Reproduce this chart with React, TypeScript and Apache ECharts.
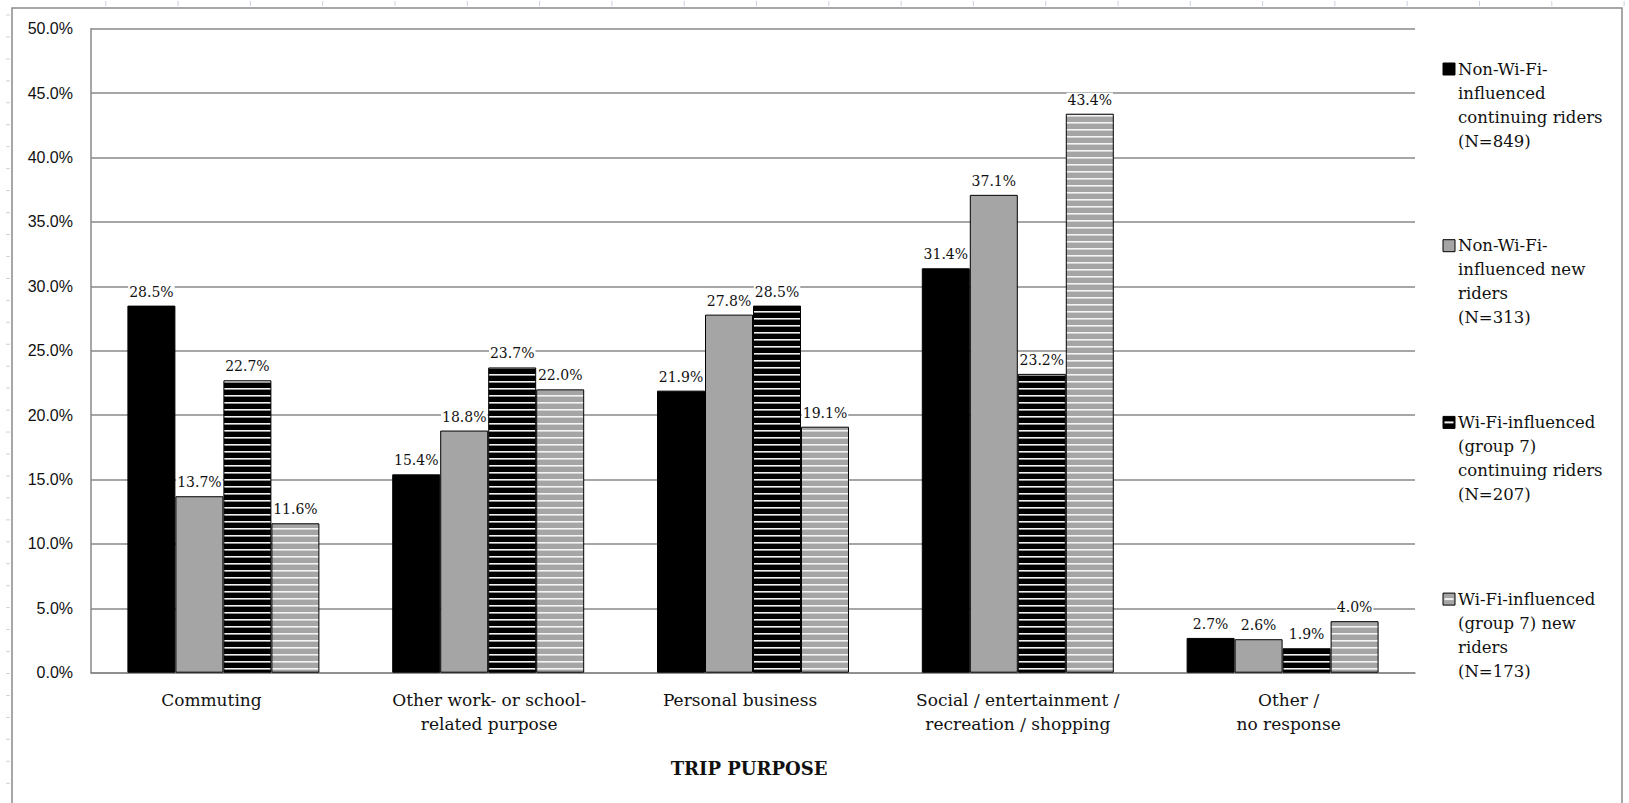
import React, { useEffect, useRef } from "react";
import * as echarts from "echarts";

// Trip purpose categories (x axis)
const categories = [
  "Commuting",
  "Other work- or school-\nrelated purpose",
  "Personal business",
  "Social / entertainment /\nrecreation / shopping",
  "Other /\nno response",
];
// Horizontal nudge of each category label, px (negative = left)
const categoryLabelShift = [-12, 1, -13, 0, 6];

// Rider groups, legend text split onto lines
const groupNames = [
  "Non-Wi-Fi-influenced continuing riders (N=849)",
  "Non-Wi-Fi-influenced new riders (N=313)",
  "Wi-Fi-influenced (group 7) continuing riders (N=207)",
  "Wi-Fi-influenced (group 7) new riders (N=173)",
];
const legendLines = [
  ["Non-Wi-Fi-", "influenced", "continuing riders", "(N=849)"],
  ["Non-Wi-Fi-", "influenced new", "riders", "(N=313)"],
  ["Wi-Fi-influenced", "(group 7)", "continuing riders", "(N=207)"],
  ["Wi-Fi-influenced", "(group 7) new", "riders", "(N=173)"],
];

// Share of trips by purpose, percent
const nonWifiContinuing = [28.5, 15.4, 21.9, 31.4, 2.7];
const nonWifiNew = [13.7, 18.8, 27.8, 37.1, 2.6];
const wifiContinuing = [22.7, 23.7, 28.5, 23.2, 1.9];
const wifiNew = [11.6, 22.0, 19.1, 43.4, 4.0];

const yMin = 0;
const yMax = 50;
const yStep = 5;

const BLACK = "#000000";
const GRAY = "#a5a5a5";
const SERIF = "DejaVu Serif";
const SANS = "Liberation Sans";

function stripeCanvas(bg: string, line: string) {
  const c = document.createElement("canvas");
  c.width = 8;
  c.height = 7;
  const ctx = c.getContext("2d")!;
  ctx.fillStyle = bg;
  ctx.fillRect(0, 0, 8, 7);
  ctx.fillStyle = line;
  ctx.fillRect(0, 3, 8, 1.6);
  return c;
}

export default function App() {
  const ref = useRef<HTMLDivElement>(null);

  useEffect(() => {
    if (!ref.current) return;
    const chart = echarts.init(ref.current, undefined, { renderer: "svg" });

    const blackStripes = {
      image: stripeCanvas(BLACK, "#f2f2f2"),
      repeat: "repeat",
      imageWidth: 8,
      imageHeight: 7,
    };
    const grayStripes = {
      image: stripeCanvas(GRAY, "#f4f4f4"),
      repeat: "repeat",
      imageWidth: 8,
      imageHeight: 7,
    };

    const fills: any[] = [BLACK, GRAY, blackStripes, grayStripes];
    const values = [nonWifiContinuing, nonWifiNew, wifiContinuing, wifiNew];

    const series = values.map((data, i) => ({
      type: "bar",
      name: groupNames[i],
      data,
      barGap: "0%",
      barCategoryGap: "27.5%",
      itemStyle: { color: fills[i], borderColor: "#000", borderWidth: 1 },
      label: {
        show: true,
        position: "top",
        distance: 7,
        formatter: (p: any) => Number(p.value).toFixed(1) + "%",
        fontFamily: SERIF,
        fontSize: 14,
        color: "#111",
        backgroundColor: "#ffffff",
        padding: [0, 1, 0, 1],
      },
    }));

    const categoryData = categories.map((name, i) => {
      const s = categoryLabelShift[i];
      return {
        value: name,
        textStyle: { padding: s < 0 ? [0, -2 * s, 0, 0] : [0, 0, 0, 2 * s] },
      };
    });

    // Legend drawn as graphic: marker on the first line, text wrapped below
    const legendGraphics: any[] = [];
    const markerX = 1443;
    const textX = 1458;
    const firstY = 69;
    const itemStep = 176.7;
    legendLines.forEach((lines, i) => {
      const cy = firstY + i * itemStep;
      const isStriped = i >= 2;
      const base = i % 2 === 0 ? BLACK : GRAY;
      legendGraphics.push({
        type: "rect",
        shape: { x: markerX, y: cy - 6, width: 12, height: 12 },
        style: { fill: base, stroke: "#000", lineWidth: 1 },
        silent: true,
      });
      if (isStriped) {
        legendGraphics.push({
          type: "rect",
          shape: { x: markerX + 1.5, y: cy - 1, width: 9, height: 2 },
          style: { fill: "#f2f2f2" },
          silent: true,
        });
      }
      legendGraphics.push({
        type: "text",
        x: textX,
        y: cy - 12,
        style: {
          text: lines.join("\n"),
          fontFamily: SERIF,
          fontSize: 16.5,
          lineHeight: 24,
          fill: "#111",
          verticalAlign: "top",
          align: "left",
        },
        silent: true,
      });
    });

    // Faint page ruler marks along the top and left edges
    const rulerGraphics: any[] = [];
    for (let x = 105.8; x < 1629; x += 72.3) {
      rulerGraphics.push({
        type: "line",
        shape: { x1: x, y1: 1, x2: x, y2: 6 },
        style: { stroke: "#c9d2e0", lineWidth: 1 },
        silent: true,
      });
    }
    for (let y = 15; y < 803; y += 21.95) {
      rulerGraphics.push({
        type: "line",
        shape: { x1: 6, y1: y, x2: 10, y2: y },
        style: { stroke: "#c9d2e0", lineWidth: 1 },
        silent: true,
      });
    }

    chart.setOption({
      animation: false,
      backgroundColor: "#ffffff",
      grid: { left: 91, right: 214, top: 28.7, bottom: 130.3, containLabel: false },
      xAxis: {
        type: "category",
        data: categoryData,
        name: "TRIP PURPOSE",
        nameLocation: "middle",
        nameGap: 87,
        nameTextStyle: {
          fontFamily: SERIF,
          fontSize: 18,
          fontWeight: "bold",
          color: "#111",
          padding: [0, 8, 0, 0],
        },
        axisLine: { show: true, lineStyle: { color: "#888", width: 1.5 } },
        axisTick: { show: false },
        axisLabel: {
          interval: 0,
          margin: 15,
          fontFamily: SERIF,
          fontSize: 17,
          lineHeight: 24,
          color: "#111",
          align: "center",
        },
      },
      yAxis: {
        type: "value",
        min: yMin,
        max: yMax,
        interval: yStep,
        axisLine: { show: true, lineStyle: { color: "#888", width: 1.5 } },
        axisTick: { show: false },
        splitLine: { show: true, lineStyle: { color: "#888", width: 1.5 } },
        axisLabel: {
          margin: 18,
          fontFamily: SANS,
          fontSize: 16,
          color: "#111",
          formatter: (v: number) => v.toFixed(1) + "%",
        },
      },
      series,
      graphic: [
        {
          type: "rect",
          shape: { x: 12, y: 8, width: 1610, height: 820 },
          style: { fill: "none", stroke: "#8a8a8a", lineWidth: 1.5 },
          silent: true,
          z: -1,
        },
        ...rulerGraphics,
        ...legendGraphics,
      ],
    });

    return () => chart.dispose();
  }, []);

  return (
    <div
      ref={ref}
      style={{ position: "fixed", left: 0, top: 0, width: 1629, height: 803, background: "#fff" }}
    />
  );
}
